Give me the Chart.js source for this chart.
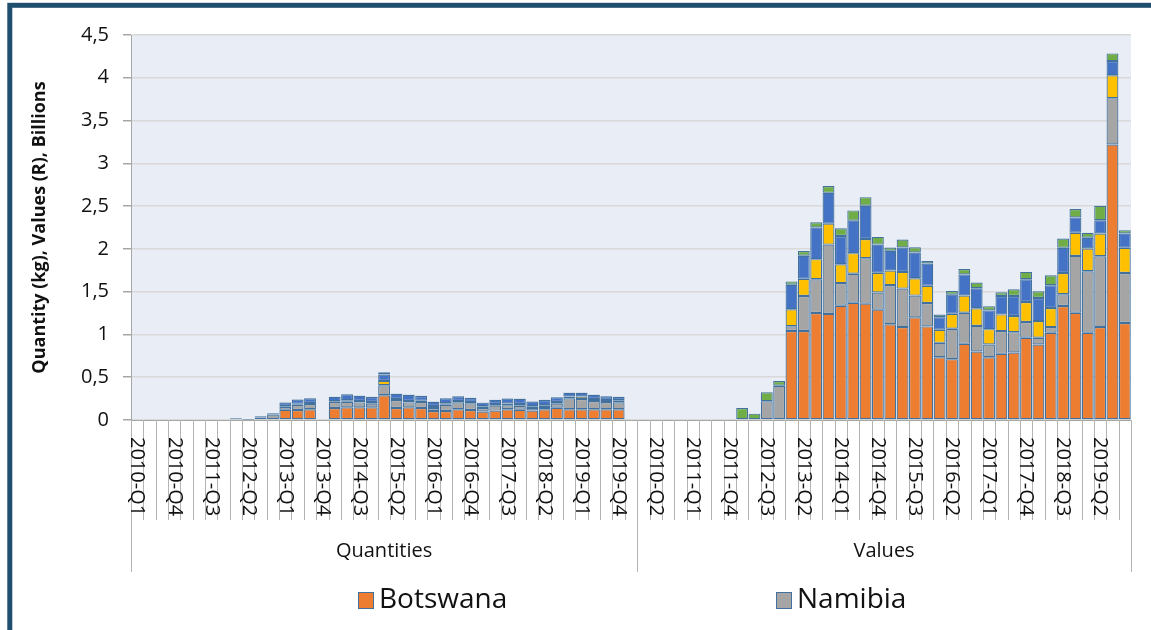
<!DOCTYPE html>
<html lang="en">
<head>
<meta charset="utf-8">
<title>Quantities and values by country</title>
<script src="https://cdn.jsdelivr.net/npm/chart.js@4.4.1/dist/chart.umd.min.js"></script>
<style>
    html, body { margin: 0; padding: 0; background: #fff; overflow: hidden; }
    #wrap { position: relative; width: 1151px; height: 630px; }
</style>
</head>
<body>
<div id="wrap"><canvas id="chart"></canvas></div>
<script>
'use strict';

// --- data (billions) ---
const YEARS = [2010, 2011, 2012, 2013, 2014, 2015, 2016, 2017, 2018, 2019];
const QUARTERS = ['Q1', 'Q2', 'Q3', 'Q4'];
const GROUPS = ['Quantities', 'Values'];

const QTY_BOTSWANA = [null, null, null, null, null, null, null, null, null, null, null, null,
    0.12, 0.117, 0.125, null, 0.14, 0.148, 0.148, 0.148, 0.29, 0.14, 0.148, 0.14,
    0.105, 0.105, 0.125, 0.117, 0.10, 0.11, 0.125, 0.12, 0.11, 0.125, 0.144, 0.125,
    0.125, 0.125, 0.125, 0.125];
const QTY_NAMIBIA = [null, null, null, null, null, null, null, null, 0.01, 0.004, 0.03, 0.065,
    0.035, 0.062, 0.062, null, 0.07, 0.066, 0.058, 0.043, 0.117, 0.093, 0.058, 0.07,
    0.035, 0.074, 0.082, 0.078, 0.04, 0.058, 0.047, 0.047, 0.03, 0.027, 0.047, 0.128,
    0.12, 0.097, 0.086, 0.082];
const QTY_LESOTHO = [null, null, null, null, null, null, null, null, null, null, null, null,
    0.01, 0.01, 0.012, null, 0.01, 0.016, 0.016, 0.02, 0.05, 0.012, 0.016, 0.016,
    0.023, 0.016, 0.016, 0.016, 0.02, 0.02, 0.02, 0.02, 0.02, 0.02, 0.02, 0.023,
    0.031, 0.023, 0.023, 0.023];
const QTY_ESWATINI = [null, null, null, null, null, null, null, null, 0.01, 0.006, 0.015, 0.013,
    0.04, 0.05, 0.055, null, 0.05, 0.07, 0.062, 0.058, 0.074, 0.062, 0.074, 0.055,
    0.05, 0.058, 0.054, 0.047, 0.043, 0.047, 0.058, 0.062, 0.055, 0.062, 0.054, 0.043,
    0.043, 0.05, 0.043, 0.039];
const QTY_OTHER = [null, null, null, null, null, null, null, null, null, null, null, null,
    0.003, 0.003, 0.003, null, 0.003, 0.003, 0.003, 0.003, 0.027, 0.003, 0.003, 0.003,
    0.003, 0.003, 0.003, 0.003, 0.003, 0.003, 0.003, 0.003, 0.003, 0.003, 0.003, 0.003,
    0.003, 0.003, 0.003, 0.003];

const VAL_BOTSWANA = [null, null, null, null, null, null, null, null, null, null, null, null,
    1.04, 1.04, 1.25, 1.24, 1.335, 1.37, 1.36, 1.29, 1.12, 1.086, 1.20, 1.094,
    0.734, 0.711, 0.89, 0.80, 0.734, 0.773, 0.789, 0.961, 0.883, 1.02, 1.332, 1.254,
    1.02, 1.086, 3.22, 1.133];
const VAL_NAMIBIA = [null, null, null, null, null, null, null, null, null, null, 0.22, 0.40,
    0.055, 0.41, 0.395, 0.81, 0.265, 0.34, 0.53, 0.20, 0.457, 0.45, 0.254, 0.273,
    0.168, 0.355, 0.363, 0.30, 0.148, 0.266, 0.238, 0.184, 0.078, 0.066, 0.137, 0.664,
    0.719, 0.828, 0.54, 0.586];
const VAL_LESOTHO = [null, null, null, null, null, null, null, null, null, null, null, null,
    0.20, 0.20, 0.235, 0.245, 0.22, 0.24, 0.225, 0.23, 0.17, 0.195, 0.203, 0.203,
    0.152, 0.176, 0.203, 0.207, 0.18, 0.195, 0.188, 0.234, 0.195, 0.223, 0.25, 0.27,
    0.266, 0.266, 0.27, 0.293];
const VAL_ESWATINI = [null, null, null, null, null, null, null, null, null, null, null, null,
    0.285, 0.27, 0.37, 0.36, 0.33, 0.38, 0.39, 0.33, 0.23, 0.285, 0.30, 0.258,
    0.148, 0.223, 0.246, 0.234, 0.219, 0.215, 0.234, 0.266, 0.27, 0.266, 0.293, 0.18,
    0.125, 0.156, 0.165, 0.168];
const VAL_OTHER = [null, null, null, null, null, null, null, null, 0.14, 0.074, 0.105, 0.055,
    0.04, 0.055, 0.06, 0.08, 0.09, 0.12, 0.10, 0.09, 0.04, 0.094, 0.063, 0.031,
    0.031, 0.043, 0.063, 0.066, 0.05, 0.043, 0.078, 0.086, 0.078, 0.117, 0.109, 0.098,
    0.059, 0.168, 0.09, 0.039];

const Y_TICK_STEP = 0.5;
const Y_MAX = 4.5;

// --- look ---
const FONT = '"Open Sans", "Noto Sans", sans-serif';
const TEXT = '#111111';
const BAR_EDGE = '#41719C';
const PLOT_BG = '#E9EDF5';
const FRAME = '#1F4E6E';
const AXIS_GREY = '#A6A6A6';

const PERIODS = YEARS.flatMap(y => QUARTERS.map(q => `${y}-${q}`));
// the Quantities block ends with one empty slot, as in the source sheet
const LABELS = [...PERIODS, '', ...PERIODS];
const GROUP_SIZES = [PERIODS.length + 1, PERIODS.length];

function series(label, qty, val, color) {
    return {
        label,
        data: [...qty, null, ...val],
        backgroundColor: color,
        borderColor: BAR_EDGE,
        borderWidth: 1.2,
        borderSkipped: false,
        barPercentage: 1,
        categoryPercentage: 0.96,
    };
}

const DATASETS = [
    series('Botswana', QTY_BOTSWANA, VAL_BOTSWANA, '#ED7D31'),
    series('Namibia', QTY_NAMIBIA, VAL_NAMIBIA, '#A5A5A5'),
    series('Lesotho', QTY_LESOTHO, VAL_LESOTHO, '#FFC000'),
    series('Eswatini', QTY_ESWATINI, VAL_ESWATINI, '#4472C4'),
    series('Other', QTY_OTHER, VAL_OTHER, '#70AD47'),
];

// only the first legend row is inside the picture
const LEGEND_ITEMS = [{ index: 0, x: 358 }, { index: 1, x: 776 }];

const plotBackground = {
    id: 'plotBackground',
    beforeDraw(chart) {
        const { ctx, chartArea: a } = chart;
        ctx.save();
        ctx.fillStyle = PLOT_BG;
        ctx.fillRect(a.left, a.top, a.right - a.left, a.bottom - a.top);
        ctx.strokeStyle = FRAME;
        ctx.lineWidth = 5;
        ctx.strokeRect(9.8, 5.3, chart.width + 40, chart.height + 40);
        ctx.restore();
    }
};

// two level category axis + legend, drawn with the x scale
const categoryAxis = {
    id: 'categoryAxis',
    afterDraw(chart) {
        const { ctx, chartArea: a, scales: { x } } = chart;
        const step = x.getPixelForValue(1) - x.getPixelForValue(0);
        const edges = [0, GROUP_SIZES[0], GROUP_SIZES[0] + GROUP_SIZES[1]];

        ctx.save();
        ctx.lineWidth = 1;
        ctx.strokeStyle = '#B4B4B4';
        for (let i = 0; i <= LABELS.length; i++) {
            const px = Math.round(x.getPixelForValue(i) - step / 2) + 0.5;
            const len = edges.includes(i) ? 152 : 100;
            ctx.beginPath();
            ctx.moveTo(px, a.bottom);
            ctx.lineTo(px, a.bottom + len);
            ctx.stroke();
        }

        ctx.fillStyle = TEXT;
        ctx.font = `20px ${FONT}`;
        ctx.textAlign = 'left';
        ctx.textBaseline = 'middle';
        LABELS.forEach((lab, i) => {
            if (i % 3 !== 0 || !lab) return;
            ctx.save();
            ctx.translate(x.getPixelForValue(i), a.bottom + 17);
            ctx.rotate(Math.PI / 2);
            ctx.fillText(lab, 0, 0);
            ctx.restore();
        });

        ctx.textAlign = 'center';
        GROUPS.forEach((g, k) => {
            const from = x.getPixelForValue(edges[k]) - step / 2;
            const to = x.getPixelForValue(edges[k + 1]) - step / 2;
            ctx.fillText(g, (from + to) / 2, a.bottom + 131);
        });

        ctx.font = `28px ${FONT}`;
        ctx.textAlign = 'left';
        LEGEND_ITEMS.forEach(item => {
            const ds = chart.data.datasets[item.index];
            ctx.fillStyle = ds.backgroundColor;
            ctx.fillRect(item.x, 592, 15, 16);
            ctx.strokeStyle = BAR_EDGE;
            ctx.strokeRect(item.x + 0.5, 592.5, 15, 16);
            ctx.fillStyle = TEXT;
            ctx.fillText(ds.label, item.x + 21, 600);
        });
        ctx.restore();
    }
};

new Chart(document.getElementById('chart'), {
    type: 'bar',
    data: { labels: LABELS, datasets: DATASETS },
    options: {
        responsive: true,
        maintainAspectRatio: false,
        animation: false,
        layout: { padding: { top: 35, right: 20, bottom: 0, left: 0 } },
        plugins: {
            legend: { display: false },
            tooltip: { enabled: false },
        },
        scales: {
            x: {
                stacked: true,
                offset: true,
                ticks: { display: false },
                grid: { display: false },
                border: { display: true, color: AXIS_GREY },
                afterFit(scale) { scale.height = 210; },
            },
            y: {
                stacked: true,
                min: 0,
                max: Y_MAX,
                ticks: {
                    stepSize: Y_TICK_STEP,
                    padding: 14,
                    color: TEXT,
                    font: { family: FONT, size: 20 },
                    callback: v => String(v).replace('.', ','),
                },
                grid: { color: '#D9D9D9', lineWidth: 1.5, tickLength: 8, tickColor: AXIS_GREY },
                border: { display: true, color: AXIS_GREY },
                title: {
                    display: true,
                    text: 'Quantity (kg), Values (R), Billions',
                    color: TEXT,
                    font: { family: FONT, size: 18, weight: 'bold' },
                    padding: { top: 29, bottom: 0 },
                },
                afterFit(scale) { scale.width = 131; },
            },
        },
    },
    plugins: [plotBackground, categoryAxis],
});
</script>
</body>
</html>
